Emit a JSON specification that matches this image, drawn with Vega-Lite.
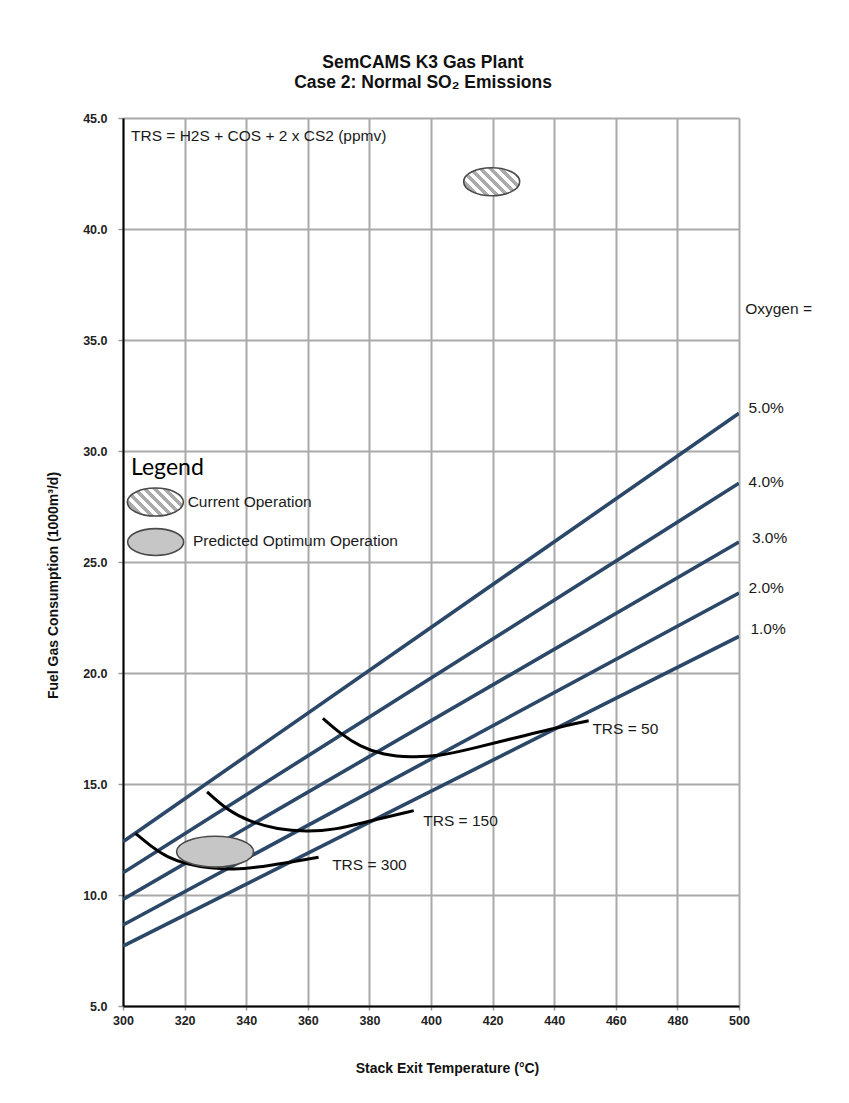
{
  "$schema": "https://vega.github.io/schema/vega-lite/v6.json",
  "width": 616,
  "height": 888,
  "autosize": {"type": "none"},
  "padding": {"left": 123, "top": 118, "right": 110, "bottom": 97},
  "background": "white",
  "title": {
    "text": ["SemCAMS K3 Gas Plant", "Case 2: Normal SO₂ Emissions"],
    "anchor": "middle",
    "frame": "group",
    "offset": 21,
    "dx": -8,
    "fontSize": 17.5,
    "lineHeight": 20,
    "font": "Liberation Sans",
    "fontWeight": "bold",
    "color": "#111"
  },
  "config": {
    "view": {"stroke": null},
    "font": "Liberation Sans",
    "axis": {
      "gridColor": "#a9a9a9",
      "gridWidth": 2,
      "gridOpacity": 1,
      "domainColor": "#000",
      "domainWidth": 2,
      "tickColor": "#999",
      "tickWidth": 1.5,
      "labelFont": "Liberation Sans",
      "labelFontWeight": "bold",
      "labelColor": "#222",
      "labelFlush": false,
      "titleFont": "Liberation Sans",
      "titleFontWeight": "bold",
      "titleColor": "#111",
      "titleFontSize": 14,
      "labelFontSize": 12.5
    }
  },
  "datasets": {
    "oxygen": [
      {"o2": "5.0%", "temp": 300, "fuel": 12.4},
      {"o2": "5.0%", "temp": 500, "fuel": 31.7},
      {"o2": "4.0%", "temp": 300, "fuel": 11.0},
      {"o2": "4.0%", "temp": 500, "fuel": 28.55},
      {"o2": "3.0%", "temp": 300, "fuel": 9.8},
      {"o2": "3.0%", "temp": 500, "fuel": 25.9},
      {"o2": "2.0%", "temp": 300, "fuel": 8.65},
      {"o2": "2.0%", "temp": 500, "fuel": 23.6},
      {"o2": "1.0%", "temp": 300, "fuel": 7.7},
      {"o2": "1.0%", "temp": 500, "fuel": 21.65}
    ],
    "trs": [
      {"trs": "300", "temp": 304.0, "fuel": 12.78},
      {"trs": "300", "temp": 309.0, "fuel": 12.2},
      {"trs": "300", "temp": 314.3, "fuel": 11.7},
      {"trs": "300", "temp": 320.8, "fuel": 11.38},
      {"trs": "300", "temp": 328.3, "fuel": 11.2},
      {"trs": "300", "temp": 335.9, "fuel": 11.15},
      {"trs": "300", "temp": 343.5, "fuel": 11.24},
      {"trs": "300", "temp": 352.1, "fuel": 11.43},
      {"trs": "300", "temp": 363.5, "fuel": 11.7},
      {"trs": "150", "temp": 327.3, "fuel": 14.65},
      {"trs": "150", "temp": 333.8, "fuel": 13.83},
      {"trs": "150", "temp": 341.3, "fuel": 13.3},
      {"trs": "150", "temp": 350.0, "fuel": 12.96},
      {"trs": "150", "temp": 359.7, "fuel": 12.85},
      {"trs": "150", "temp": 368.4, "fuel": 12.93},
      {"trs": "150", "temp": 379.2, "fuel": 13.3},
      {"trs": "150", "temp": 394.4, "fuel": 13.8},
      {"trs": "50", "temp": 364.9, "fuel": 17.96},
      {"trs": "50", "temp": 370.5, "fuel": 17.28},
      {"trs": "50", "temp": 377.0, "fuel": 16.68},
      {"trs": "50", "temp": 384.6, "fuel": 16.31},
      {"trs": "50", "temp": 393.3, "fuel": 16.2},
      {"trs": "50", "temp": 403.0, "fuel": 16.26},
      {"trs": "50", "temp": 413.8, "fuel": 16.61},
      {"trs": "50", "temp": 426.8, "fuel": 17.06},
      {"trs": "50", "temp": 439.8, "fuel": 17.51},
      {"trs": "50", "temp": 451.2, "fuel": 17.85}
    ],
    "ops": [
      {"kind": "current", "temp": 419.7, "fuel": 42.13},
      {"kind": "current_legend", "temp": 310.5, "fuel": 27.7},
      {"kind": "optimum", "temp": 329.9, "fuel": 11.95},
      {"kind": "optimum_legend", "temp": 310.6, "fuel": 25.9}
    ],
    "labels": [
      {"group": "note", "label": "TRS = H2S + COS + 2 x CS2 (ppmv)", "temp": 302.6, "fuel": 44.19},
      {"group": "note", "label": "TRS = 50", "temp": 452.4, "fuel": 17.5},
      {"group": "note", "label": "TRS = 150", "temp": 397.5, "fuel": 13.35},
      {"group": "note", "label": "TRS = 300", "temp": 367.9, "fuel": 11.35},
      {"group": "note", "label": "Oxygen =", "temp": 502.0, "fuel": 36.38},
      {"group": "note", "label": "5.0%", "temp": 503.1, "fuel": 31.92},
      {"group": "note", "label": "4.0%", "temp": 503.1, "fuel": 28.62},
      {"group": "note", "label": "3.0%", "temp": 504.2, "fuel": 26.07},
      {"group": "note", "label": "2.0%", "temp": 503.1, "fuel": 23.82},
      {"group": "note", "label": "1.0%", "temp": 503.7, "fuel": 21.97},
      {"group": "note", "label": "Current Operation", "temp": 321.0, "fuel": 27.7},
      {"group": "note", "label": "Predicted Optimum Operation", "temp": 322.7, "fuel": 25.93},
      {"group": "legend_title", "label": "Legend", "temp": 302.6, "fuel": 29.25}
    ]
  },
  "encoding": {
    "x": {
      "field": "temp",
      "type": "quantitative",
      "scale": {"domain": [300, 500], "nice": false, "zero": false},
      "axis": {
        "values": [300, 320, 340, 360, 380, 400, 420, 440, 460, 480, 500],
        "title": "Stack Exit Temperature (°C)",
        "tickSize": 4,
        "labelPadding": 4,
        "titleX": 324,
        "titleY": 62,
        "titleBaseline": "middle",
        "titleAnchor": "middle"
      }
    },
    "y": {
      "field": "fuel",
      "type": "quantitative",
      "scale": {"domain": [5, 45], "nice": false, "zero": false},
      "axis": {
        "values": [5, 10, 15, 20, 25, 30, 35, 40, 45],
        "format": ".1f",
        "title": "Fuel Gas Consumption (1000m³/d)",
        "tickSize": 5,
        "labelPadding": 11,
        "titleX": -70,
        "titleY": 467,
        "titleBaseline": "middle",
        "titleAnchor": "middle"
      }
    }
  },
  "layer": [
    {
      "data": {"name": "oxygen"},
      "mark": {"type": "line", "color": "#2c4868", "strokeWidth": 3.6, "clip": true},
      "encoding": {"detail": {"field": "o2", "type": "nominal"}}
    },
    {
      "data": {"name": "trs"},
      "mark": {"type": "line", "color": "#000", "strokeWidth": 3, "interpolate": "basis"},
      "encoding": {
        "detail": {"field": "trs", "type": "nominal"},
        "order": {"field": "temp", "type": "quantitative"}
      }
    },
    {
      "data": {"name": "ops"},
      "transform": [{"filter": "datum.kind === 'current' || datum.kind === 'current_legend'"}],
      "mark": {
        "type": "point",
        "filled": true,
        "opacity": 1,
        "size": 3136,
        "shape": "M -1 0 C -1 -0.2762 -0.5523 -0.5 0 -0.5 C 0.5523 -0.5 1 -0.2762 1 0 C 1 0.2762 0.5523 0.5 0 0.5 C -0.5523 0.5 -1 0.2762 -1 0 Z",
        "fill": {
          "gradient": "linear",
          "x1": 0, "y1": 0.75, "x2": 1, "y2": 0.25,
          "stops": [
            {"offset": 0, "color": "#ffffff"},
            {"offset": 0.07, "color": "#ffffff"},
            {"offset": 0.07, "color": "#ababab"},
            {"offset": 0.143, "color": "#ababab"},
            {"offset": 0.143, "color": "#ffffff"},
            {"offset": 0.213, "color": "#ffffff"},
            {"offset": 0.213, "color": "#ababab"},
            {"offset": 0.286, "color": "#ababab"},
            {"offset": 0.286, "color": "#ffffff"},
            {"offset": 0.356, "color": "#ffffff"},
            {"offset": 0.356, "color": "#ababab"},
            {"offset": 0.429, "color": "#ababab"},
            {"offset": 0.429, "color": "#ffffff"},
            {"offset": 0.499, "color": "#ffffff"},
            {"offset": 0.499, "color": "#ababab"},
            {"offset": 0.571, "color": "#ababab"},
            {"offset": 0.571, "color": "#ffffff"},
            {"offset": 0.641, "color": "#ffffff"},
            {"offset": 0.641, "color": "#ababab"},
            {"offset": 0.714, "color": "#ababab"},
            {"offset": 0.714, "color": "#ffffff"},
            {"offset": 0.784, "color": "#ffffff"},
            {"offset": 0.784, "color": "#ababab"},
            {"offset": 0.857, "color": "#ababab"},
            {"offset": 0.857, "color": "#ffffff"},
            {"offset": 0.927, "color": "#ffffff"},
            {"offset": 0.927, "color": "#ababab"},
            {"offset": 1, "color": "#ababab"}
          ]
        },
        "stroke": "#4a4a4a",
        "strokeWidth": 1.6
      }
    },
    {
      "data": {"name": "ops"},
      "transform": [{"filter": "datum.kind === 'optimum'"}],
      "mark": {
        "type": "point",
        "filled": true,
        "opacity": 1,
        "size": 5929,
        "shape": "M -1 0 C -1 -0.2209 -0.5523 -0.4 0 -0.4 C 0.5523 -0.4 1 -0.2209 1 0 C 1 0.2209 0.5523 0.4 0 0.4 C -0.5523 0.4 -1 0.2209 -1 0 Z",
        "fill": "#c6c6c6",
        "stroke": "#4a4a4a",
        "strokeWidth": 1.6
      }
    },
    {
      "data": {"name": "ops"},
      "transform": [{"filter": "datum.kind === 'optimum_legend'"}],
      "mark": {
        "type": "point",
        "filled": true,
        "opacity": 1,
        "size": 3136,
        "shape": "M -1 0 C -1 -0.2651 -0.5523 -0.48 0 -0.48 C 0.5523 -0.48 1 -0.2651 1 0 C 1 0.2651 0.5523 0.48 0 0.48 C -0.5523 0.48 -1 0.2651 -1 0 Z",
        "fill": "#c6c6c6",
        "stroke": "#4a4a4a",
        "strokeWidth": 1.6
      }
    },
    {
      "data": {"name": "labels"},
      "transform": [{"filter": "datum.group === 'note'"}],
      "mark": {"type": "text", "align": "left", "baseline": "middle", "font": "Liberation Sans", "fontSize": 15.5, "color": "#1a1a1a"},
      "encoding": {"text": {"field": "label", "type": "nominal"}}
    },
    {
      "data": {"name": "labels"},
      "transform": [{"filter": "datum.group === 'legend_title'"}],
      "mark": {"type": "text", "align": "left", "baseline": "middle", "font": "Lato", "fontSize": 23, "color": "#000"},
      "encoding": {"text": {"field": "label", "type": "nominal"}}
    }
  ]
}
